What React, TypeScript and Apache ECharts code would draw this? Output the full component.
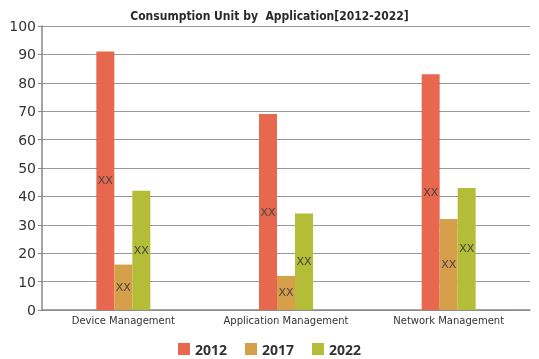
import React, { useEffect, useRef } from "react";
import * as echarts from "echarts";

const categories = ["Device Management", "Application Management", "Network Management"];
const years = ["2012", "2017", "2022"];
const values2012 = [91, 69, 83];
const values2017 = [16, 12, 32];
const values2022 = [42, 34, 43];
const colors = ["#e8674f", "#d6a04a", "#b3bd37"];
const yTicks = [0, 10, 20, 30, 40, 50, 60, 70, 80, 90, 100];

export default function App() {
  const ref = useRef<HTMLDivElement>(null);
  useEffect(() => {
    if (!ref.current) return;
    const chart = echarts.init(ref.current, null, { renderer: "svg" });
    const seriesData = [values2012, values2017, values2022];
    chart.setOption({
      animation: false,
      title: {
        text: "Consumption Unit by  Application[2012-2022]",
        left: "center",
        top: 5,
        textStyle: {
          fontFamily: "DejaVu Sans Condensed",
          fontWeight: "bold",
          fontSize: 12,
          color: "#2a2a2a",
        },
      },
      legend: {
        top: 337,
        left: "center",
        itemWidth: 12,
        itemHeight: 12,
        itemGap: 18,
        icon: "rect",
        textStyle: { fontFamily: "Open Sans", fontWeight: "bold", fontSize: 14, color: "#333" },
        data: years,
      },
      grid: { left: 42, right: 9, top: 26, bottom: 49, containLabel: false },
      xAxis: {
        type: "category",
        data: categories,
        axisLine: { lineStyle: { color: "#888", width: 1.5 } },
        axisTick: { alignWithLabel: true, length: 4, lineStyle: { color: "#888" } },
        axisLabel: { fontFamily: "DejaVu Sans", fontSize: 10, color: "#333", margin: 5 },
      },
      yAxis: {
        type: "value",
        min: 0,
        max: yTicks[yTicks.length - 1],
        interval: 10,
        axisLine: { show: true, lineStyle: { color: "#888", width: 1.5 } },
        axisTick: { show: true, length: 4, lineStyle: { color: "#888" } },
        axisLabel: { fontFamily: "DejaVu Sans", fontSize: 14, color: "#333", margin: 6 },
        splitLine: { lineStyle: { color: "#999", width: 1.2 } },
      },
      series: years.map((y, i) => ({
        name: y,
        type: "bar",
        data: seriesData[i],
        barWidth: 18,
        barGap: "0%",
        itemStyle: { color: colors[i] },
        label: {
          show: true,
          position: "inside",
          formatter: "XX",
          color: "#444",
          fontFamily: "DejaVu Sans",
          fontSize: 11,
        },
      })),
    });
    return () => chart.dispose();
  }, []);
  return <div ref={ref} style={{ position: "fixed", left: 0, top: 0, width: 539, height: 359 }} />;
}
